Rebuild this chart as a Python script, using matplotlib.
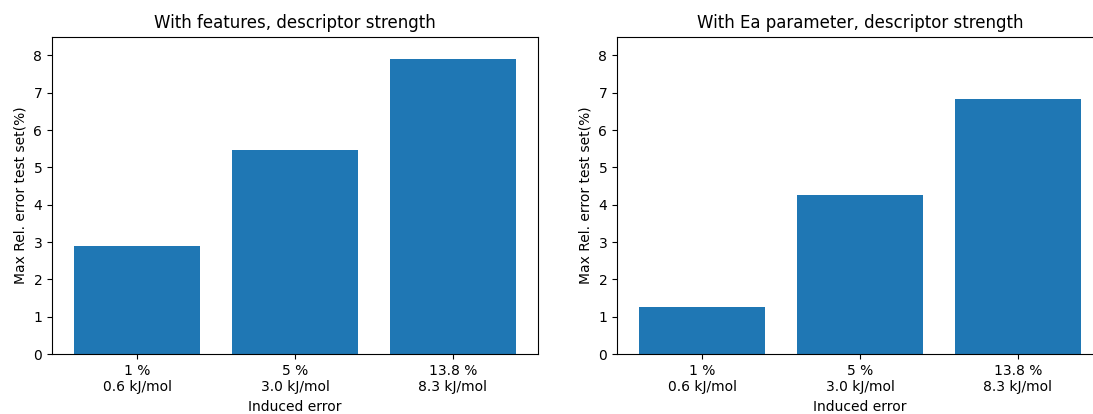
import matplotlib
matplotlib.use("Agg")
import matplotlib.pyplot as plt
import numpy as np

labels = ["1 %\n0.6 kJ/mol", "5 %\n3.0 kJ/mol", "13.8 %\n8.3 kJ/mol"]
features_err = [2.90, 5.47, 7.91]
ea_err = [1.25, 4.25, 6.82]
titles = ["With features, descriptor strength", "With Ea parameter, descriptor strength"]

fig = plt.figure(figsize=(10.931, 4.141), dpi=100)
ax1 = fig.add_axes([0.0476, 0.1449, 0.4447, 0.7664])
ax2 = fig.add_axes([0.5645, 0.1449, 0.4447, 0.7664])

ind = np.arange(len(labels))
for ax, vals, title in zip([ax1, ax2], [features_err, ea_err], titles):
    ax.bar(ind, vals, 0.8, color="#1f77b4")
    ax.set_xticks(ind)
    ax.set_xticklabels(labels)
    ax.set_ylim(0, 8.5)
    ax.set_xlabel("Induced error")
    ax.set_ylabel("Max Rel. error test set(%)")
    ax.set_title(title)

plt.savefig("out.png", dpi=100)
